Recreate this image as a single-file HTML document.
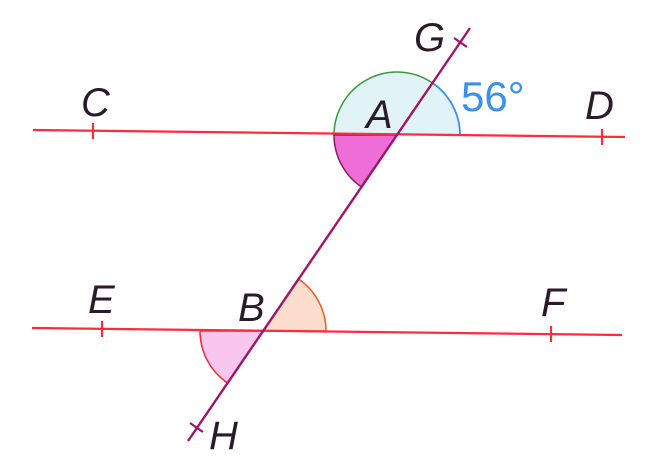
<!DOCTYPE html>
<html><head><meta charset="utf-8"><style>
html,body{margin:0;padding:0;background:#fff;}
svg{display:block}
text{font-family:"Liberation Sans",sans-serif;font-style:italic;font-size:40px;fill:#2a1a2a}
</style></head><body>
<svg width="661" height="472" viewBox="0 0 661 472" xmlns="http://www.w3.org/2000/svg">
<path d="M334,135 A63,63 0 0 1 460,135 Z" fill="#e2f3f7"/>
<path d="M334,135 A63,63 0 0 1 432.2,82.8" fill="none" stroke="#3a9a3a" stroke-width="1.5"/>
<path d="M432.2,82.8 A63,63 0 0 1 460,135" fill="none" stroke="#3a8ff0" stroke-width="1.8"/>
<path d="M397,135 L334,135 A63,63 0 0 0 361.8,187.2 Z" fill="#ee6ed8" stroke="#8a1a5a" stroke-width="1.5"/>
<path d="M263,331 L326,331 A63,63 0 0 0 298.2,278.8 Z" fill="#fcdccc" stroke="#f05a20" stroke-width="1.5"/>
<path d="M263,331 L200,331 A63,63 0 0 0 227.8,383.2 Z" fill="#f8c6ee" stroke="#f02a30" stroke-width="1.5"/>
<line x1="33" y1="130" x2="625" y2="137" stroke="#ff2a3a" stroke-width="2.2"/>
<line x1="32" y1="328" x2="622" y2="335" stroke="#ff2a3a" stroke-width="2.2"/>
<line x1="470" y1="28" x2="188" y2="441" stroke="#a0146a" stroke-width="2.4"/>
<line x1="93" y1="123" x2="93" y2="139" stroke="#ff2a3a" stroke-width="2.2"/>
<line x1="602" y1="129" x2="602" y2="145" stroke="#ff2a3a" stroke-width="2.2"/>
<line x1="102" y1="321" x2="102" y2="337" stroke="#ff2a3a" stroke-width="2.2"/>
<line x1="551" y1="326" x2="551" y2="342" stroke="#ff2a3a" stroke-width="2.2"/>
<line x1="454" y1="38" x2="467" y2="47" stroke="#a0146a" stroke-width="2.2"/>
<line x1="190" y1="423" x2="203" y2="432" stroke="#a0146a" stroke-width="2.2"/>
<text x="81" y="116">C</text>
<text x="585" y="119">D</text>
<text x="88" y="313">E</text>
<text x="541" y="316">F</text>
<text x="414" y="51">G</text>
<text x="209" y="449">H</text>
<text x="366" y="128">A</text>
<text x="238" y="321">B</text>
<text x="461" y="111" style="font-style:normal;fill:#3a8ff0;font-size:42px">56°</text>
</svg>
</body></html>
